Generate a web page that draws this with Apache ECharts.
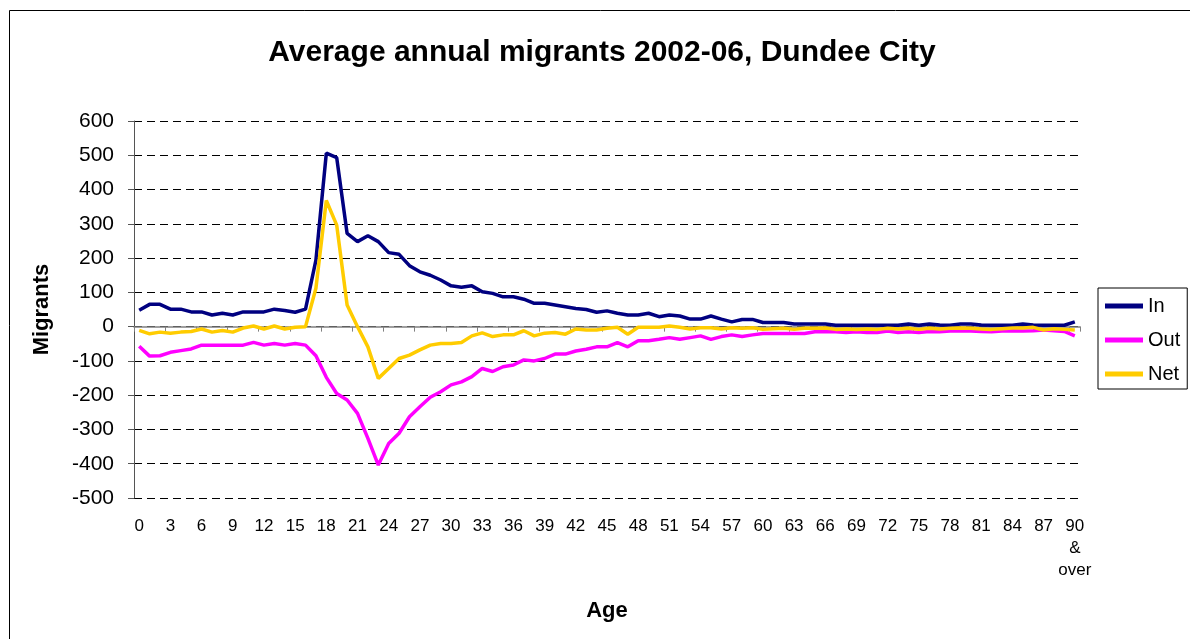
<!DOCTYPE html>
<html><head><meta charset="utf-8">
<script src="https://cdn.jsdelivr.net/npm/echarts@6/dist/echarts.min.js"></script>
<style>html,body{margin:0;padding:0;background:#fff}#c{width:1190px;height:639px}</style>
</head><body><div id="c"></div>
<script>
const ages = ['0','1','2','3','4','5','6','7','8','9','10','11','12','13','14','15','16','17','18','19',
  '20','21','22','23','24','25','26','27','28','29','30','31','32','33','34','35','36','37','38','39',
  '40','41','42','43','44','45','46','47','48','49','50','51','52','53','54','55','56','57','58','59',
  '60','61','62','63','64','65','66','67','68','69','70','71','72','73','74','75','76','77','78','79',
  '80','81','82','83','84','85','86','87','88','89','90\n&\nover'];

const inMig = [48,65,65,51,51,43,43,34,39,34,43,43,43,51,47,42,51,
  194,506,493,272,248,265,248,216,211,178,160,150,136,119,115,119,102,97,
  87,87,80,68,68,63,58,53,50,42,46,39,34,34,39,29,34,31,22,22,31,22,
  14,21,21,12,12,12,8,8,8,8,4,4,4,4,4,4,4,8,4,8,5,4,8,8,5,4,4,4,8,5,4,4,4,14];

const outMig = [-57,-86,-85,-75,-70,-65,-54,-54,-54,-54,-54,-46,-54,-49,-54,-49,-54,
  -85,-148,-195,-214,-253,-326,-404,-341,-311,-263,-234,-206,-190,-170,-161,-146,-122,-131,
  -117,-112,-97,-100,-93,-80,-80,-71,-66,-59,-59,-47,-59,-41,-41,-37,-32,-37,-32,-27,-37,-29,
  -24,-29,-24,-20,-20,-20,-20,-20,-15,-15,-15,-17,-15,-17,-17,-13,-17,-15,-17,-14,-15,-13,-12,-13,-14,-15,-13,-12,-13,-12,-10,-12,-14,-27];

const netMig = [-11,-21,-16,-19,-16,-14,-7,-16,-11,-16,-4,2,-7,2,-7,-2,0,
  112,368,296,63,0,-59,-151,-122,-93,-83,-68,-54,-49,-49,-46,-27,-18,-29,
  -24,-24,-12,-27,-19,-17,-22,-7,-10,-10,-5,-2,-22,-2,-2,-2,2,-2,-7,-3,-3,-7,
  -3,-5,-3,-8,-6,-5,-8,-5,-5,-4,-8,-7,-8,-7,-8,-5,-7,-5,-8,-5,-7,-5,-4,-5,-7,-8,-6,-4,-4,-2,-10,-6,-8,-10];

const seriesNames = ['In','Out','Net'];
const titleText = 'Average annual migrants 2002-06, Dundee City';

const FONT = '"Liberation Sans", Arial, sans-serif';
const chart = echarts.init(document.getElementById('c'), null, {renderer:'canvas'});
chart.setOption({
  animation: false,
  backgroundColor: '#fff',
  textStyle: {fontFamily: FONT},
  graphic: [
    {type:'rect', silent:true, shape:{x:9.5, y:10.5, width:1300, height:700},
     style:{fill:'none', stroke:'#000', lineWidth:1}},
    {type:'text', x:602, y:53, silent:true,
     style:{text:titleText, fontFamily:FONT, fontSize:30, fontWeight:'bold', fill:'#000',
            align:'center', verticalAlign:'middle'}}
  ],
  legend: {
    orient:'vertical', left:1098, top:288,
    data: seriesNames,
    icon:'path://M0,0H38V5H0Z',
    itemWidth:38, itemHeight:20, itemGap:14,
    textStyle:{fontSize:20, color:'#000', fontFamily:FONT, lineHeight:20},
    borderColor:'#000', borderWidth:1, borderRadius:0,
    padding:[8,7,5,7]
  },
  grid: {left:134, right:110, top:121, bottom:141},
  xAxis: [
    {type:'category', data:ages, position:'bottom', boundaryGap:true,
     axisLine:{show:false, onZero:false}, axisTick:{show:false}, splitLine:{show:false},
     axisLabel:{interval:2, fontSize:17, color:'#000', margin:17, lineHeight:22, fontFamily:FONT},
     name:'Age', nameLocation:'middle', nameGap:102,
     nameTextStyle:{fontSize:22, fontWeight:'bold', color:'#000', fontFamily:FONT}},
    {type:'category', data:ages, position:'top', boundaryGap:true,
     axisLine:{show:true, onZero:true, lineStyle:{color:'#808080', width:1.5}},
     axisTick:{show:true, interval:2, inside:true, length:5, lineStyle:{color:'#808080', width:1}},
     axisLabel:{show:false}, splitLine:{show:false}}
  ],
  yAxis: {
    type:'value', min:-500, max:600, interval:100,
    axisLine:{show:true, lineStyle:{color:'#555', width:1}},
    axisTick:{show:true, length:6, lineStyle:{color:'#555'}},
    axisLabel:{fontSize:21, color:'#000', margin:20, fontFamily:FONT},
    splitLine:{show:true, lineStyle:{type:[8,5], color:'#000', width:1}},
    name:'Migrants', nameLocation:'middle', nameGap:81, nameRotate:90,
    nameTextStyle:{fontSize:22, fontWeight:'bold', color:'#000', fontFamily:FONT}
  },
  series: [
    {name:'In', type:'line', data:inMig, xAxisIndex:0, symbol:'none', color:'#000080',
     lineStyle:{width:3.5, color:'#000080'}},
    {name:'Out', type:'line', data:outMig, xAxisIndex:0, symbol:'none', color:'#FF00FF',
     lineStyle:{width:3.5, color:'#FF00FF'}},
    {name:'Net', type:'line', data:netMig, xAxisIndex:0, symbol:'none', color:'#FFCC00',
     lineStyle:{width:3.5, color:'#FFCC00'}}
  ]
});
</script></body></html>
